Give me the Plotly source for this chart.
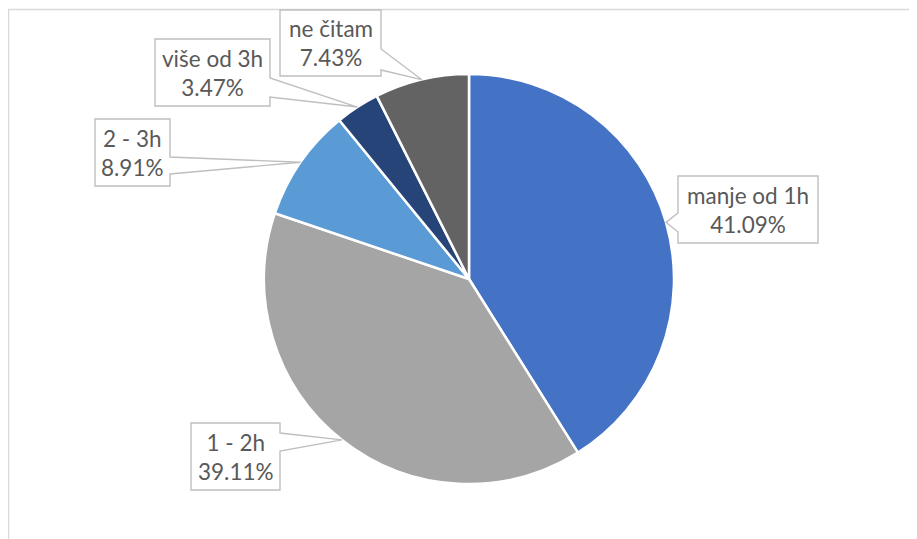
import math
import plotly.graph_objects as go

# ---- data ----
categories = ["manje od 1h", "1 - 2h", "2 - 3h", "više od 3h", "ne čitam"]
shares = [41.09, 39.11, 8.91, 3.47, 7.43]
colors = ["#4472C4", "#A5A5A5", "#5B9BD5", "#264478", "#636363"]

# ---- layout geometry (pixels in the 917x539 view) ----
W, H = 917, 539
OFF = 8  # page body margin
CX, CY, R = 469, 279, 205
# label boxes: (x0, y0, x1, y1, side of pointer, base a, base b)
boxes = {
    "manje od 1h": (678, 176, 818, 243, "left", 213, 232),
    "1 - 2h": (191, 423, 280, 490, "right", 433, 451),
    "2 - 3h": (95, 119, 170, 186, "right", 157, 174),
    "više od 3h": (155, 39, 270, 106, "right", 78, 97),
    "ne čitam": (280, 10, 381, 76, "right", 49, 70),
}

def px(x):
    return (x - OFF) / W

def py(y):
    return 1 - (y - OFF) / H

fig = go.Figure(go.Pie(
    labels=categories,
    values=shares,
    sort=False,
    direction="clockwise",
    rotation=0,
    marker=dict(colors=colors, line=dict(color="white", width=2.5)),
    textinfo="none",
    hoverinfo="label+percent",
    domain=dict(x=[px(CX - R), px(CX + R)], y=[py(CY + R), py(CY - R)]),
))

shapes = [dict(type="rect", xref="paper", yref="paper",
               x0=px(8.5), x1=px(W + 20), y0=py(9.5), y1=py(H + 20),
               line=dict(color="#D9D9D9", width=1.5), fillcolor="rgba(0,0,0,0)", layer="below")]
annotations = []
total = sum(shares)
cum = 0.0
for cat, v in zip(categories, shares):
    mid = (cum + v / 2) / total * 2 * math.pi
    cum += v
    tx = CX + R * math.sin(mid)
    ty = CY - R * math.cos(mid)
    x0, y0, x1, y1, side, a, b = boxes[cat]
    if side == "right":
        pts = [(x0, y0), (x1, y0), (x1, a), (tx, ty), (x1, b), (x1, y1), (x0, y1)]
    else:
        pts = [(x0, y0), (x1, y0), (x1, y1), (x0, y1), (x0, b), (tx, ty), (x0, a)]
    path = "M " + " L ".join(f"{px(p[0]):.5f},{py(p[1]):.5f}" for p in pts) + " Z"
    shapes.append(dict(type="path", xref="paper", yref="paper", path=path,
                       fillcolor="white", line=dict(color="#BFBFBF", width=1.4), layer="above"))
    annotations.append(dict(xref="paper", yref="paper", x=px((x0 + x1) / 2), y=py((y0 + y1) / 2),
                            text=f"{cat}<br>{v:.2f}%", showarrow=False, align="center",
                            xanchor="center", yanchor="middle",
                            font=dict(family="Lato", size=22.5, color="#595959")))

fig.update_layout(
    width=W, height=H, autosize=False,
    margin=dict(l=0, r=0, t=0, b=0),
    paper_bgcolor="white", plot_bgcolor="white",
    showlegend=False,
    shapes=shapes, annotations=annotations,
)
fig.write_html("out.html")
